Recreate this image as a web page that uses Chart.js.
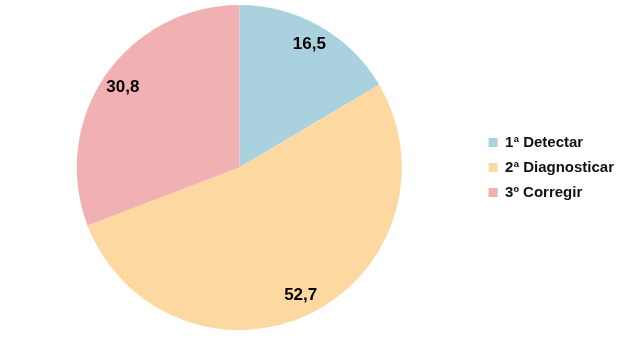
<!DOCTYPE html>
<html>
<head>
<meta charset="utf-8">
<script src="https://cdn.jsdelivr.net/npm/chart.js@4/dist/chart.umd.min.js"></script>
<style>
  html, body { margin: 0; padding: 0; background: #fff; }
  #wrap { width: 631px; height: 345px; }
</style>
</head>
<body>
<div id="wrap"><canvas id="chart"></canvas></div>
<script>
// Dati del grafico
const categorie = ["1ª Detectar", "2ª Diagnosticar", "3º Corregir"];
const valori = [16.5, 52.7, 30.8];
const etichette = ["16,5", "52,7", "30,8"];
const colori = ["#a9d2de", "#fdd8a0", "#f1b0b2"];

// Etichette dentro le fette
const labelPlugin = {
  id: "sliceLabels",
  afterDatasetsDraw(chart) {
    const ctx = chart.ctx;
    const meta = chart.getDatasetMeta(0);
    ctx.save();
    ctx.font = "bold 17px 'Liberation Sans', Arial, sans-serif";
    ctx.fillStyle = "#000";
    ctx.textAlign = "center";
    ctx.textBaseline = "middle";
    meta.data.forEach((arc, i) => {
      const p = arc.getProps(["x", "y", "startAngle", "endAngle", "outerRadius"], true);
      const mid = (p.startAngle + p.endAngle) / 2;
      const r = p.outerRadius * 0.87;
      ctx.fillText(etichette[i], p.x + Math.cos(mid) * r, p.y + Math.sin(mid) * r);
    });
    ctx.restore();
  }
};

new Chart(document.getElementById("chart"), {
  type: "pie",
  data: {
    labels: categorie,
    datasets: [{
      data: valori,
      backgroundColor: colori,
      borderWidth: 0
    }]
  },
  options: {
    responsive: true,
    maintainAspectRatio: false,
    animation: false,
    layout: { padding: { top: 5, bottom: 15, right: 7, left: 0 } },
    plugins: {
      tooltip: { enabled: false },
      legend: {
        position: "right",
        labels: {
          boxWidth: 9,
          boxHeight: 9,
          padding: 10,
          color: "#111",
          font: { family: "'Liberation Sans', Arial, sans-serif", size: 15, weight: "bold" }
        }
      }
    }
  },
  plugins: [labelPlugin]
});
</script>
</body>
</html>
